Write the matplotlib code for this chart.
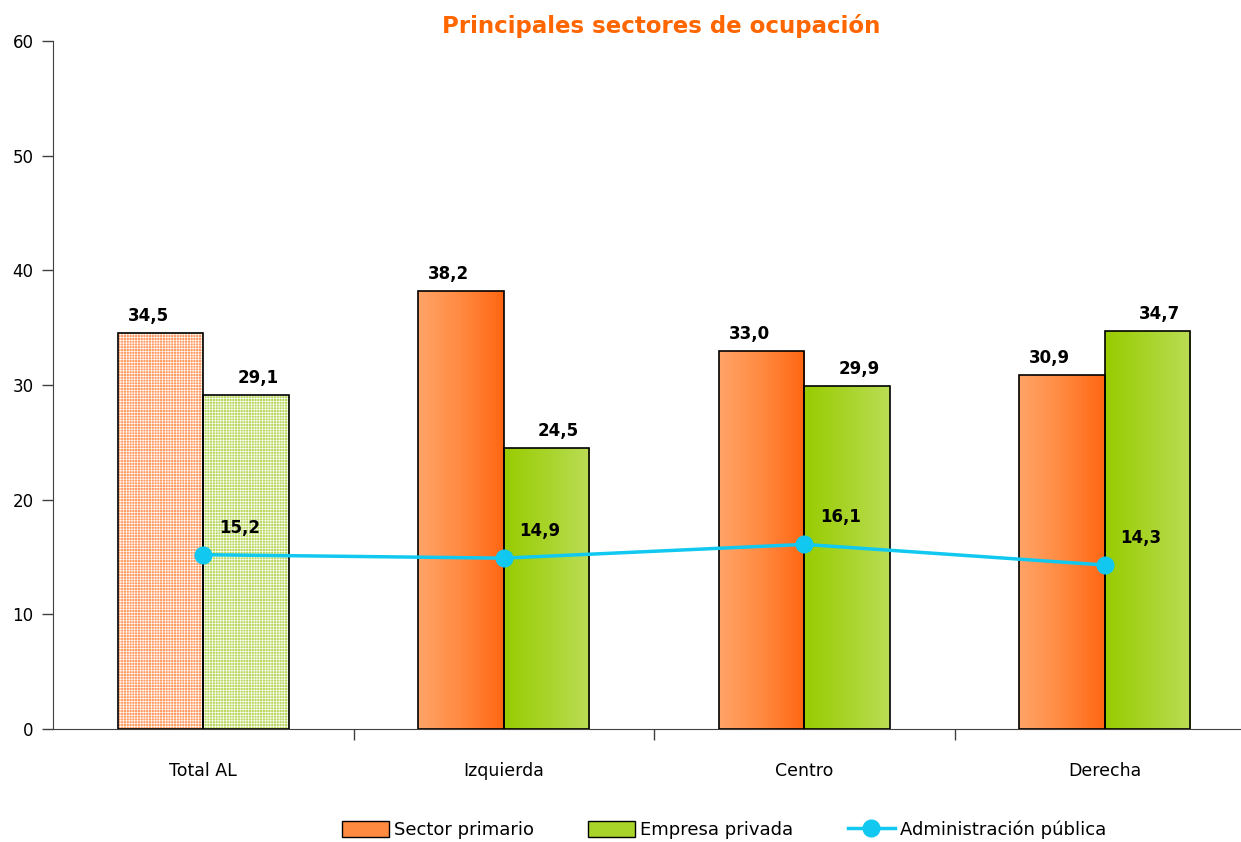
import matplotlib.pyplot as plt
import numpy as np
from matplotlib.colors import LinearSegmentedColormap
from matplotlib.patches import Patch
from matplotlib.lines import Line2D

categories = ['Total AL', 'Izquierda', 'Centro', 'Derecha']
sector_primario = [34.5, 38.2, 33.0, 30.9]
empresa_privada = [29.1, 24.5, 29.9, 34.7]
admin_publica = [15.2, 14.9, 16.1, 14.3]
y_ticks = [0, 10, 20, 30, 40, 50, 60]

plt.rcParams['hatch.linewidth'] = 0.45

fig = plt.figure(figsize=(12.41, 8.42), dpi=100)
ax = fig.add_axes([53/1241, 113/842, 1202/1241, 688/842])

orange_cmap = LinearSegmentedColormap.from_list('og', ['#FFA468', '#FF8A40', '#FF6612'])
green_cmap = LinearSegmentedColormap.from_list('gr', ['#99CC00', '#A8D42A', '#BBDD55'])
grad = np.linspace(0, 1, 256).reshape(1, -1)

x = np.arange(len(categories))
w = 0.285

def gradient_bar(xl, h, cmap):
    bar = ax.bar(xl, h, w, align='edge', facecolor='none', edgecolor='black', linewidth=1.2, zorder=3)[0]
    im = ax.imshow(grad, cmap=cmap, extent=[xl, xl + w, 0, h], aspect='auto', zorder=2)
    im.set_clip_path(bar)

def dotted_bar(xl, h, color):
    ax.bar(xl, h, w, align='edge', color=color, edgecolor='white', hatch='++++++', linewidth=0, zorder=2)
    ax.bar(xl, h, w, align='edge', facecolor='none', edgecolor='black', linewidth=1.2, zorder=3)

for i in range(len(categories)):
    if i == 0:
        dotted_bar(x[i] - w, sector_primario[i], '#FF9A62')
        dotted_bar(x[i], empresa_privada[i], '#B8D860')
    else:
        gradient_bar(x[i] - w, sector_primario[i], orange_cmap)
        gradient_bar(x[i], empresa_privada[i], green_cmap)

for i in range(len(categories)):
    ax.annotate(f'{sector_primario[i]:.1f}'.replace('.', ','), (x[i] - w / 2, sector_primario[i]),
                xytext=(-12, 8), textcoords='offset pixels', ha='center', va='bottom',
                fontsize=12, fontweight='bold', zorder=5)
    ax.annotate(f'{empresa_privada[i]:.1f}'.replace('.', ','), (x[i] + w / 2, empresa_privada[i]),
                xytext=(12, 8), textcoords='offset pixels', ha='center', va='bottom',
                fontsize=12, fontweight='bold', zorder=5)

ax.plot(x, admin_publica, color='#10C8F0', linewidth=2.5, marker='o', markersize=12, zorder=4)
for i in range(len(categories)):
    ax.annotate(f'{admin_publica[i]:.1f}'.replace('.', ','), (x[i], admin_publica[i]),
                xytext=(36, 18), textcoords='offset pixels', ha='center', va='bottom',
                fontsize=12, fontweight='bold', zorder=5)

ax.set_xlim(-0.5, 3.5)
ax.set_ylim(0, 60)
ax.set_yticks(y_ticks)
ax.set_xticks(x)
ax.set_xticklabels(categories)
ax.set_xticks([0.5, 1.5, 2.5], minor=True)
ax.tick_params(axis='x', which='major', length=0, pad=24, labelsize=12.5)
ax.tick_params(axis='x', which='minor', length=8, width=1, color='#404040')
ax.tick_params(axis='y', length=8, width=1, color='#404040', labelsize=12, pad=6)
for s in ['top', 'right']:
    ax.spines[s].set_visible(False)
ax.spines['left'].set_color('#404040')
ax.spines['bottom'].set_color('#404040')

fig.text(661/1241, 1 - 26/842, 'Principales sectores de ocupación', ha='center', va='center',
         color='#FF6600', fontsize=16.5, fontweight='bold')

handles = [Patch(facecolor='#FF8A40', edgecolor='black', label='Sector primario'),
           Patch(facecolor='#A8D42A', edgecolor='black', label='Empresa privada'),
           Line2D([], [], color='#10C8F0', linewidth=2.5, marker='o', markersize=12,
                  label='Administración pública')]
fig.legend(handles=handles, loc='center', bbox_to_anchor=(724/1241, 1 - 830/842), ncol=3,
           frameon=False, fontsize=13, columnspacing=3.0, handlelength=2.6, handleheight=1.0,
           handletextpad=0.3)

fig.savefig('out.png', dpi=100)
